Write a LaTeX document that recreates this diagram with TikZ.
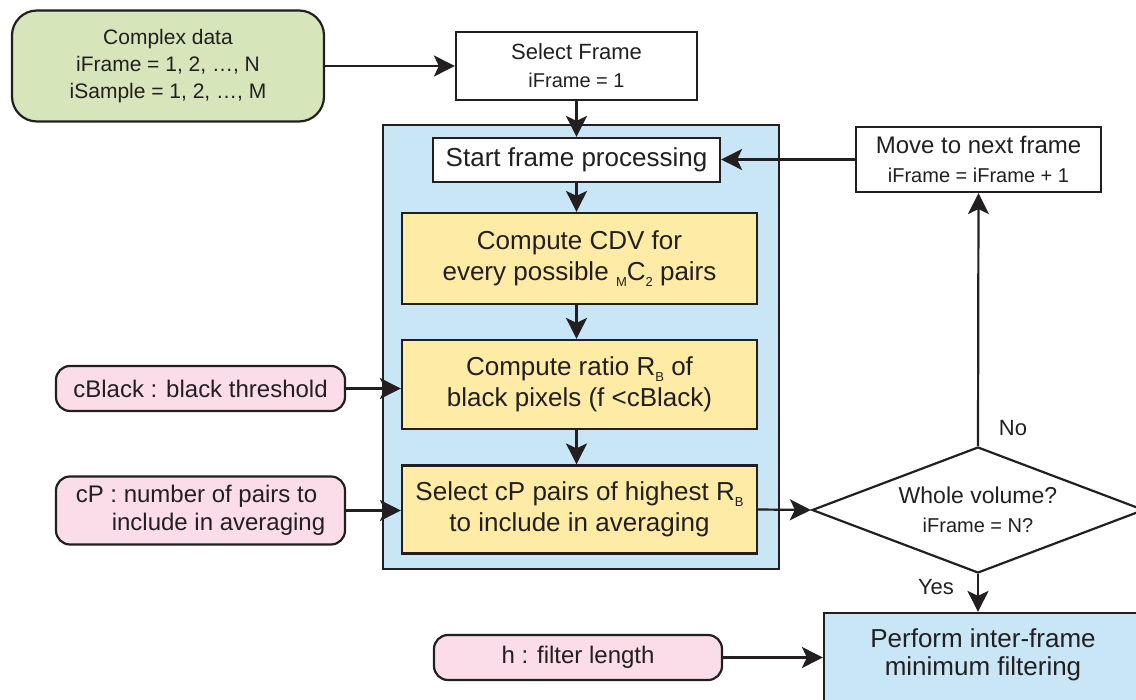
\documentclass[tikz,border=0pt]{standalone}
\usepackage{fontspec}
\setmainfont{Liberation Sans}
\usetikzlibrary{arrows.meta,shapes.geometric}
\definecolor{ink}{HTML}{231F20}
\definecolor{gfill}{RGB}{214,230,186}
\definecolor{pfill}{RGB}{250,221,232}
\definecolor{bfill}{RGB}{201,230,246}
\definecolor{yfill}{RGB}{253,235,166}
\newcommand\subtx[1]{\raisebox{-0.45ex}{\fontsize{13}{13}\selectfont #1}}
\tikzset{
  base/.style={draw=ink, line width=2.2pt, text=ink, inner sep=0pt, align=center},
  whitebox/.style={base, fill=white, rectangle},
  yellowbox/.style={base, fill=yfill, rectangle, minimum width=355pt, font=\fontsize{26}{31}\selectfont},
  inbox/.style={base, fill=pfill, rounded corners=14pt, font=\fontsize{24}{28}\selectfont},
  conn/.style={draw=ink, line width=2.2pt, -{Stealth[length=21pt,width=21pt,inset=5pt]}},
  lbl/.style={text=ink, inner sep=0pt, font=\fontsize{22}{26}\selectfont}
}
\begin{document}
\begin{tikzpicture}[x=1pt,y=-1pt]
\clip (0,0) rectangle (1136,700);
\fill[white] (0,0) rectangle (1136,700);
% container
\node[base, fill=bfill, minimum width=396pt, minimum height=444pt] (cont) at (581,347) {};
% nodes
\node[base, fill=gfill, rounded corners=25pt, minimum width=312pt, minimum height=111pt,
  font=\fontsize{21}{27}\selectfont] (data) at (168,66)
  {Complex data\\iFrame = 1, 2, \dots, N\\iSample = 1, 2, \dots, M};
\node[whitebox, minimum width=241pt, minimum height=68pt, font=\fontsize{22}{28}\selectfont] (sel) at (576.5,66)
  {Select Frame\\\fontsize{20}{28}\selectfont iFrame = 1};
\node[whitebox, minimum width=287pt, minimum height=44pt, font=\fontsize{26}{31}\selectfont] (start) at (576.5,160)
  {Start frame processing};
\node[yellowbox, minimum height=91pt] (y1) at (579.5,258.5)
  {Compute CDV for\\every possible \subtx{M}C\subtx{2} pairs};
\node[yellowbox, minimum height=89pt] (y2) at (579.5,384.5)
  {Compute ratio R\subtx{B} of\\black pixels (f <cBlack)};
\node[yellowbox, minimum height=88pt] (y3) at (579.5,509.5)
  {Select cP pairs of highest R\subtx{B}\\to include in averaging};
\node[whitebox, minimum width=245pt, minimum height=65pt, font=\fontsize{24}{29}\selectfont] (move) at (978.5,159.5)
  {Move to next frame\\\fontsize{20}{29}\selectfont iFrame = iFrame + 1};
\node[base, diamond, aspect=2.63, fill=white, minimum width=332pt, minimum height=126pt,
  font=\fontsize{23}{29}\selectfont] (dia) at (978,510)
  {Whole volume?\\\fontsize{20}{29}\selectfont iFrame = N?};
\node[base, fill=bfill, minimum width=326pt, minimum height=107pt] (perf) at (987,666.5) {};
\node[lbl, align=center, font=\fontsize{26}{28}\selectfont] (perft) at (983,655)
  {Perform inter-frame\\minimum filtering};
\node[inbox, minimum width=289pt, minimum height=45pt] (cblack) at (200.5,388.5)
  {cBlack : black threshold};
\node[inbox, minimum width=289pt, minimum height=68pt, align=left] (cp) at (200.5,510.5)
  {cP : number of pairs to\\\hspace*{36pt}include in averaging};
\node[inbox, minimum width=288pt, minimum height=45pt] (h) at (578,657.5)
  {h : filter length};
% labels
\node[lbl] (no) at (1013,428) {No};
\node[lbl] (yes) at (936,587) {Yes};
% connectors
\draw[conn] (data.east) -- (data.east -| sel.west);
\draw[conn] (sel.south) -- (start.north);
\draw[conn] (start.south) -- (start.south |- y1.north);
\draw[conn] (start.south |- y1.south) -- (start.south |- y2.north);
\draw[conn] (start.south |- y2.south) -- (start.south |- y3.north);
\draw[conn] (move.west) -- (move.west -| start.east);
\draw[conn] (y3.east) -- (dia.west);
\draw[conn] (dia.north) -- (move.south);
\draw[conn] (dia.south) -- (dia.south |- perf.north);
\draw[conn] (cblack.east) -- (cblack.east -| y2.west);
\draw[conn] (cp.east) -- (cp.east -| y3.west);
\draw[conn] (h.east) -- (h.east -| perf.west);
\end{tikzpicture}
\end{document}
